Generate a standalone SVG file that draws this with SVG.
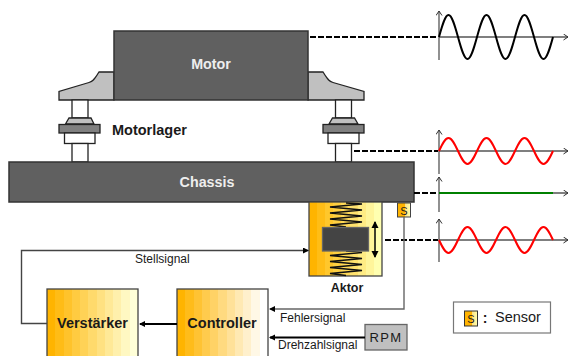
<svg xmlns="http://www.w3.org/2000/svg" width="570" height="356" viewBox="0 0 570 356">
<style>
text{font-family:"Liberation Sans",Arial,sans-serif;fill:#1a1a1a}
.b{font-weight:bold}
.w{fill:#eee;font-weight:bold;font-size:14.300px;text-anchor:middle}
.s{font-size:12px}
.dark{fill:#606060;stroke:#333;stroke-width:1.5}
.light{fill:#c0c0c0;stroke:#222;stroke-width:1.3}
.mid{fill:#808080;stroke:#222;stroke-width:1.3}
.wh{fill:#fff;stroke:#222;stroke-width:1.3}
.dash{fill:none;stroke:#000;stroke-width:2;stroke-dasharray:6 2}
.axis{fill:none;stroke:#555;stroke-width:1.3}
.wave{fill:none;stroke-width:2}
.sp{fill:none;stroke:#111;stroke-width:1.3}
.frame{stroke:#444;stroke-width:1.4}
</style>
<defs>
<marker id="ah" markerWidth="8" markerHeight="8" refX="5" refY="3" orient="auto" markerUnits="userSpaceOnUse"><path d="M0,0 L6,3 L0,6 Z" fill="#000"/></marker>
<marker id="ax" markerWidth="8" markerHeight="8" refX="5" refY="3" orient="auto" markerUnits="userSpaceOnUse"><path d="M0.5,0 L5,3 L0.5,6" fill="none" stroke="#333" stroke-width="1"/></marker>
<marker id="ahe" markerWidth="8" markerHeight="9" refX="6" refY="3.5" orient="auto" markerUnits="userSpaceOnUse"><path d="M0,0 L7,3.5 L0,7 Z" fill="#000"/></marker>
<marker id="ahs" markerWidth="8" markerHeight="9" refX="1" refY="3.5" orient="auto" markerUnits="userSpaceOnUse"><path d="M7,0 L0,3.5 L7,7 Z" fill="#000"/></marker>
<linearGradient id="gv">
<stop offset="0" stop-color="#FFB400"/><stop offset=".091" stop-color="#FFB400"/><stop offset=".091" stop-color="#FFBC16"/><stop offset=".182" stop-color="#FFBC16"/><stop offset=".182" stop-color="#FFC32B"/><stop offset=".273" stop-color="#FFC32B"/><stop offset=".273" stop-color="#FFCB41"/><stop offset=".364" stop-color="#FFCB41"/><stop offset=".364" stop-color="#FFD256"/><stop offset=".455" stop-color="#FFD256"/><stop offset=".455" stop-color="#FFDA6C"/><stop offset=".545" stop-color="#FFDA6C"/><stop offset=".545" stop-color="#FFE181"/><stop offset=".636" stop-color="#FFE181"/><stop offset=".636" stop-color="#FFE997"/><stop offset=".727" stop-color="#FFE997"/><stop offset=".727" stop-color="#FFF0AC"/><stop offset=".818" stop-color="#FFF0AC"/><stop offset=".818" stop-color="#FFF8C2"/><stop offset=".909" stop-color="#FFF8C2"/><stop offset=".909" stop-color="#FFFFD8"/><stop offset="1" stop-color="#FFFFD8"/>
</linearGradient>
<linearGradient id="gc">
<stop offset="0" stop-color="#FFB400"/><stop offset=".091" stop-color="#FFB400"/><stop offset=".091" stop-color="#FFBC1A"/><stop offset=".182" stop-color="#FFBC1A"/><stop offset=".182" stop-color="#FFC333"/><stop offset=".273" stop-color="#FFC333"/><stop offset=".273" stop-color="#FFCB4D"/><stop offset=".364" stop-color="#FFCB4D"/><stop offset=".364" stop-color="#FFD266"/><stop offset=".455" stop-color="#FFD266"/><stop offset=".455" stop-color="#FFDA80"/><stop offset=".545" stop-color="#FFDA80"/><stop offset=".545" stop-color="#FFE199"/><stop offset=".636" stop-color="#FFE199"/><stop offset=".636" stop-color="#FFE9B3"/><stop offset=".727" stop-color="#FFE9B3"/><stop offset=".727" stop-color="#FFF0CC"/><stop offset=".818" stop-color="#FFF0CC"/><stop offset=".818" stop-color="#FFF8E6"/><stop offset=".909" stop-color="#FFF8E6"/><stop offset=".909" stop-color="#FFFFFF"/><stop offset="1" stop-color="#FFFFFF"/>
</linearGradient>
<linearGradient id="ga">
<stop offset="0" stop-color="#FFB400"/><stop offset=".111" stop-color="#FFB400"/><stop offset=".111" stop-color="#FFBD16"/><stop offset=".222" stop-color="#FFBD16"/><stop offset=".222" stop-color="#FFC72C"/><stop offset=".333" stop-color="#FFC72C"/><stop offset=".333" stop-color="#FFD042"/><stop offset=".444" stop-color="#FFD042"/><stop offset=".444" stop-color="#FFD958"/><stop offset=".556" stop-color="#FFD958"/><stop offset=".556" stop-color="#FFE26E"/><stop offset=".667" stop-color="#FFE26E"/><stop offset=".667" stop-color="#FFEC84"/><stop offset=".778" stop-color="#FFEC84"/><stop offset=".778" stop-color="#FFF59A"/><stop offset=".889" stop-color="#FFF59A"/><stop offset=".889" stop-color="#FFFFB0"/><stop offset="1" stop-color="#FFFFB0"/>
</linearGradient>
<linearGradient id="gs">
<stop offset="0" stop-color="#FFB400"/><stop offset=".55" stop-color="#FFB400"/><stop offset=".55" stop-color="#FFE080"/><stop offset="1" stop-color="#FFFFB0"/>
</linearGradient>
</defs>

<g id="mount-left">
<path class="light" d="M114,72 H99 C95,78 94,81 89,82.500 L59,91.500 V100 H114 Z"/>
<rect class="wh" x="72" y="100" width="16" height="18"/>
<path class="light" d="M65.500,124 L69,118 H91 L94,124 Z"/>
<rect class="mid" x="59" y="124.500" width="41" height="8.500"/>
<rect class="wh" x="64.500" y="133" width="30.500" height="10.500"/>
<rect class="wh" x="72" y="143.500" width="16" height="18.500"/>
</g>
<g id="mount-right">
<path class="light" d="M308,72 H323 C327,78 328,81 333,82.500 L364,91.500 V100 H308 Z"/>
<rect class="wh" x="335.500" y="100" width="16" height="18"/>
<path class="light" d="M329,124 L332.500,118 H354.500 L358,124 Z"/>
<rect class="mid" x="323" y="124.500" width="41" height="8.500"/>
<rect class="wh" x="328" y="133" width="31" height="10.500"/>
<rect class="wh" x="335.500" y="143.500" width="16" height="18.500"/>
</g>
<g id="motor">
<rect class="dark" x="114" y="31" width="194" height="69"/>
<text class="w" x="211" y="69">Motor</text>
</g>
<text id="motorlager" class="b" x="112" y="135" font-size="14.500">Motorlager</text>
<g id="chassis">
<rect class="dark" x="9" y="162" width="405" height="40"/>
<text class="w" x="207" y="187">Chassis</text>
</g>

<g id="aktor">
<rect x="309" y="202" width="73" height="74" fill="url(#ga)" stroke="#444" stroke-width="1.3"/>
<polyline class="sp" points="346,203 362,204 330,207 362,210 330,213 362,216 330,219 362,222 330,225 346,227"/>
<polyline class="sp" points="346,251 362,252.500 330,255.500 362,258.500 330,261.500 362,264.500 330,267.500 362,270.500 330,273.500 346,275.500"/>
<rect x="322.500" y="227.500" width="46" height="23.500" fill="#444" stroke="#666" stroke-width="1.3"/>
<path d="M375,222 V257" stroke="#000" stroke-width="1.5" marker-start="url(#ahs)" marker-end="url(#ahe)" fill="none"/>
<text class="b" x="347" y="292" font-size="12.500" text-anchor="middle">Aktor</text>
</g>
<g id="sensor">
<rect x="397.500" y="203" width="13" height="14" fill="url(#gs)" stroke="#444"/>
<text x="404" y="214.500" font-size="11" text-anchor="middle">S</text>
</g>
<g id="verstaerker">
<rect x="47" y="289" width="91" height="72" fill="url(#gv)" stroke="#444" stroke-width="1.3"/>
<text class="b" x="92.500" y="328" font-size="14.500" text-anchor="middle">Verstärker</text>
</g>
<g id="controller">
<rect x="177" y="289" width="91" height="72" fill="url(#gc)" stroke="#444" stroke-width="1.3"/>
<text class="b" x="222" y="328" font-size="14.500" text-anchor="middle">Controller</text>
</g>
<g id="rpm">
<rect x="365" y="324.500" width="42" height="25.500" fill="#c0c0c0" stroke="#666" stroke-width="1.3"/>
<text x="386" y="342" font-size="13" letter-spacing="1.300" text-anchor="middle">RPM</text>
</g>
<g id="legend">
<rect x="453.500" y="302" width="97" height="31" fill="#fff" stroke="#777" stroke-width="1.2"/>
<rect x="464.500" y="311" width="13" height="15" fill="url(#gs)" stroke="#333"/>
<text x="471" y="323" font-size="11" text-anchor="middle">S</text>
<text class="b" x="485" y="323" font-size="14" text-anchor="middle">:</text>
<text x="495" y="322" font-size="14.500">Sensor</text>
</g>

<g id="connectors">
<path class="dash" d="M310,37 H438"/>
<path class="dash" d="M354,151 H438"/>
<path class="dash" d="M414,193 H438"/>
<path class="dash" d="M385,240 H438"/>
<path class="frame" fill="none" d="M47,323.500 H21.500 V250.500 H308" marker-end="url(#ah)"/>
<path fill="none" stroke="#666" stroke-width="1.4" d="M404,217 V309 H270" marker-end="url(#ah)"/>
<path fill="none" stroke="#000" stroke-width="2" d="M365,337.500 H270" marker-end="url(#ah)"/>
<path fill="none" stroke="#000" stroke-width="2" d="M177,324 H140" marker-end="url(#ah)"/>
</g>

<g id="plot-motor">
<path class="axis" d="M439,60 V11" marker-end="url(#ax)"/>
<path class="axis" d="M439,37 H568" marker-end="url(#ax)"/>
<path class="wave" stroke="#000" d="M439,37 c3.090,-11.260 6.060,-22 9.500,-22 c3.440,0 6.410,10.740 9.500,22 c3.090,11.260 6.060,22 9.500,22 c3.440,0 6.410,-10.740 9.500,-22 c3.090,-11.260 6.060,-22 9.500,-22 c3.440,0 6.410,10.740 9.500,22 c3.090,11.260 6.060,22 9.500,22 c3.440,0 6.410,-10.740 9.500,-22 c3.090,-11.260 6.060,-22 9.500,-22 c3.440,0 6.410,10.740 9.500,22 c3.090,11.260 6.060,22 9.500,22 c3.440,0 6.410,-10.740 9.500,-22"/>
</g>
<g id="plot-lager">
<path class="axis" d="M439,174 V130" marker-end="url(#ax)"/>
<path class="axis" d="M439,151 H568" marker-end="url(#ax)"/>
<path class="wave" stroke="#f00" d="M439,151 c3.090,-6.660 6.060,-13 9.500,-13 c3.440,0 6.410,6.340 9.500,13 c3.090,6.660 6.060,13 9.500,13 c3.440,0 6.410,-6.340 9.500,-13 c3.090,-6.660 6.060,-13 9.500,-13 c3.440,0 6.410,6.340 9.500,13 c3.090,6.660 6.060,13 9.500,13 c3.440,0 6.410,-6.340 9.500,-13 c3.090,-6.660 6.060,-13 9.500,-13 c3.440,0 6.410,6.340 9.500,13 c3.090,6.660 6.060,13 9.500,13 c3.440,0 6.410,-6.340 9.500,-13"/>
</g>
<g id="plot-chassis">
<path class="axis" d="M439,212 V177" marker-end="url(#ax)"/>
<path class="axis" d="M439,193 H568" marker-end="url(#ax)"/>
<path stroke="#008000" stroke-width="2.200" fill="none" d="M439,193 H553"/>
</g>
<g id="plot-aktor">
<path class="axis" d="M439,262 V219" marker-end="url(#ax)"/>
<path class="axis" d="M439,240 H568" marker-end="url(#ax)"/>
<path class="wave" stroke="#f00" d="M439,240 c3.090,6.660 6.060,13 9.500,13 c3.440,0 6.410,-6.340 9.500,-13 c3.090,-6.660 6.060,-13 9.500,-13 c3.440,0 6.410,6.340 9.500,13 c3.090,6.660 6.060,13 9.500,13 c3.440,0 6.410,-6.340 9.500,-13 c3.090,-6.660 6.060,-13 9.500,-13 c3.440,0 6.410,6.340 9.500,13 c3.090,6.660 6.060,13 9.500,13 c3.440,0 6.410,-6.340 9.500,-13 c3.090,-6.660 6.060,-13 9.500,-13 c3.440,0 6.410,6.340 9.500,13"/>
</g>

<text class="s" x="135" y="263">Stellsignal</text>
<text class="s" x="280" y="322">Fehlersignal</text>
<text class="s" x="278" y="349">Drehzahlsignal</text>
</svg>
